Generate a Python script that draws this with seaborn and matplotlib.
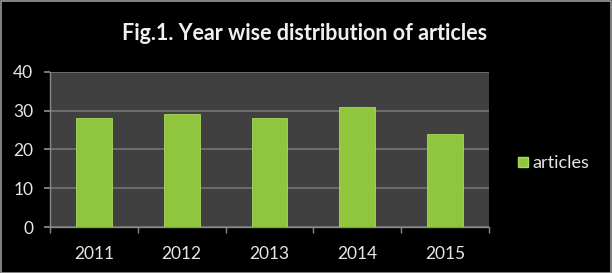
import matplotlib
matplotlib.use("Agg")
import matplotlib.pyplot as plt
import seaborn as sns
import pandas as pd
from matplotlib.patches import Rectangle
from matplotlib.lines import Line2D

years = ["2011", "2012", "2013", "2014", "2015"]
articles = [28, 29, 28, 31, 24]
yticks = [0, 10, 20, 30, 40]
title = "Fig.1. Year wise distribution of articles"
series_name = "articles"

df = pd.DataFrame({"year": years, "articles": articles})

sns.set_theme(style="dark")
plt.rcParams["font.family"] = ["Lato", "DejaVu Sans"]

fig = plt.figure(figsize=(6.12, 2.73), dpi=100, facecolor="black")
ax = fig.add_axes([50 / 612, 1 - 227 / 273, (489 - 50) / 612, (227 - 71.7) / 273])
ax.set_facecolor("#404040")

sns.barplot(data=df, x="year", y="articles", color="#8fc63e", width=0.41,
            saturation=1, ax=ax, zorder=3)
for p in ax.patches:
    p.set_edgecolor("#a8da5c")
    p.set_linewidth(0.6)

ax.set_ylim(0, 40)
ax.set_xlim(-0.5, len(years) - 0.5)
ax.set_yticks(yticks)
ax.set_yticklabels([str(v) for v in yticks], color="#e6e6e6", fontsize=12.5)
ax.set_xticks(range(len(years)))
ax.set_xticklabels(years, color="#e6e6e6", fontsize=12.5)
ax.tick_params(axis="x", which="major", length=0, pad=14)
ax.set_xticks([i - 0.5 for i in range(len(years) + 1)], minor=True)
ax.tick_params(axis="x", which="minor", length=4, color="#8a8a8a", direction="out", bottom=True)
ax.tick_params(axis="y", length=4, color="#8a8a8a", direction="out", left=True, pad=8)
ax.grid(axis="y", color="#747474", linewidth=1.2, zorder=1)
ax.grid(axis="x", visible=False)
ax.set_axisbelow(True)
ax.set_xlabel("")
ax.set_ylabel("")
for s in ["top", "right"]:
    ax.spines[s].set_visible(False)
for s in ["left", "bottom"]:
    ax.spines[s].set_visible(True)
    ax.spines[s].set_color("#8a8a8a")
    ax.spines[s].set_linewidth(1.0)

fig.text(305 / 612, 1 - 34 / 273, title, ha="center", va="center",
         color="#f0f0f0", fontsize=15.5, fontweight="bold")

handle = Line2D([], [], marker="s", linestyle="none", markersize=7,
                markerfacecolor="#8fc63e", markeredgecolor="#a8da5c")
fig.legend([handle], [series_name], loc="center left",
           bbox_to_anchor=(507 / 612, 1 - 163 / 273), frameon=False,
           fontsize=13, labelcolor="#e6e6e6", handletextpad=0.0,
           handlelength=1.0, borderaxespad=0)

fig.patches.append(Rectangle((0.001, 0.0), 0.997, 0.998, transform=fig.transFigure,
                             fill=False, edgecolor="#9a9a9a", linewidth=1.2))

fig.savefig("out.png", dpi=100, facecolor="black")
